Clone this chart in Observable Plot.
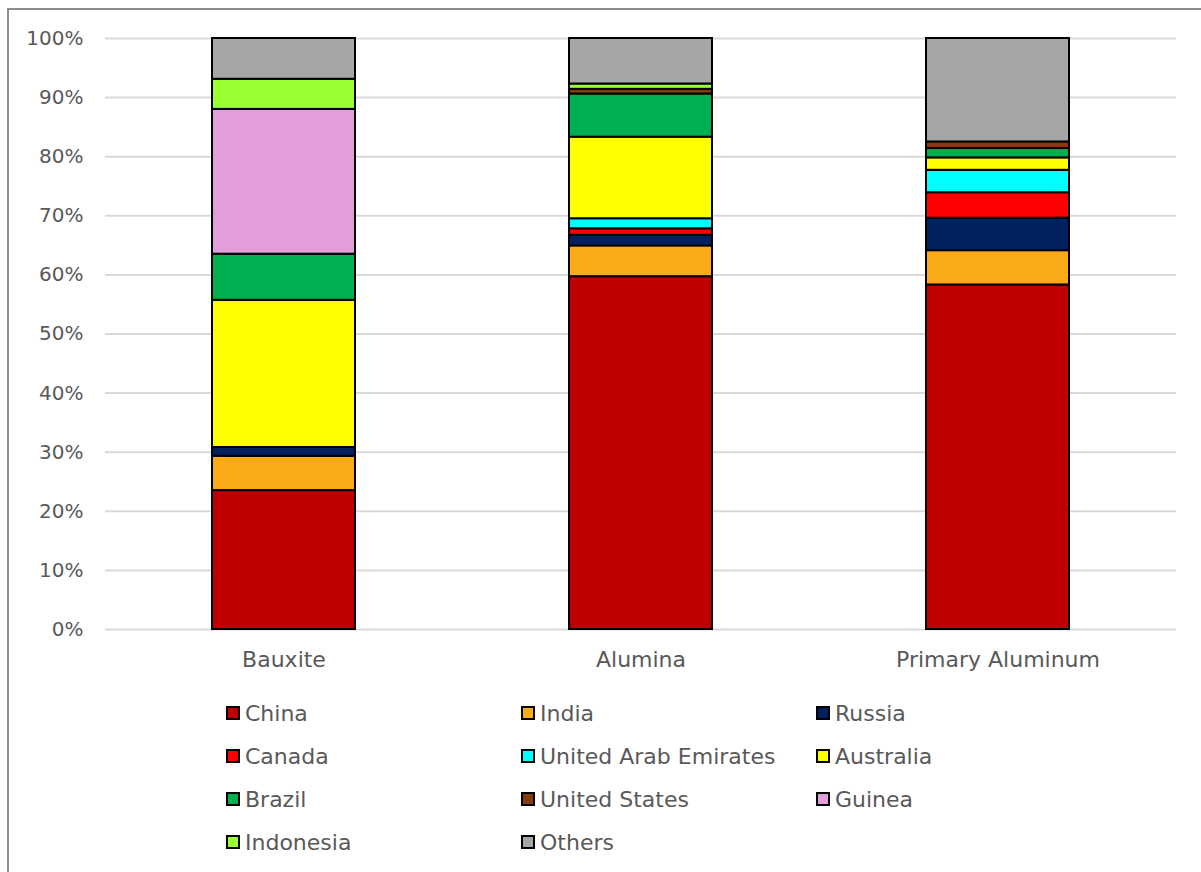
<!DOCTYPE html>
<html>
<head>
<meta charset="utf-8">
<script src="https://cdn.jsdelivr.net/npm/d3@7"></script>
<script src="https://cdn.jsdelivr.net/npm/@observablehq/plot@0.6"></script>
<style>
  html, body { margin: 0; padding: 0; background: #fff; overflow: hidden; }
  body { width: 1201px; height: 872px; position: relative; font-family: "DejaVu Sans", sans-serif; }
  #frame {
    position: absolute; left: 7px; top: 8px; width: 1300px; height: 1000px;
    border-left: 2px solid #8c8c8c; border-top: 2px solid #8c8c8c; box-sizing: border-box;
  }
  #chart { position: absolute; left: 0; top: 0; }
  #legend { position: absolute; left: 0; top: 0; width: 1201px; }
  .item { position: absolute; display: flex; align-items: center; font-size: 22px; color: #595959; white-space: nowrap; }
  .sw { width: 10px; height: 10px; border: 2px solid #000; margin-right: 5px; }
  #chart svg g[aria-label="x-axis tick label"] { font-size: 22px; }
</style>
</head>
<body>
<div id="frame"></div>
<div id="chart"></div>
<div id="legend"></div>
<script>
// Stages of the aluminum supply chain
const stages = ["Bauxite", "Alumina", "Primary Aluminum"];

// Producing countries, bottom of each stack first
const countries = ["China", "India", "Russia", "Canada", "United Arab Emirates", "Australia",
                   "Brazil", "United States", "Guinea", "Indonesia", "Others"];

const countryColors = ["#C00000", "#FBAB18", "#002060", "#FF0000", "#00FFFF", "#FFFF00",
                       "#00B050", "#843C0C", "#E29EDB", "#99FF33", "#A6A6A6"];

// Share of world production (%), one value per stage
const bauxiteShare = [23.5, 5.8, 1.5, 0, 0, 24.9, 7.8, 0, 24.5, 5.1, 6.9];
const aluminaShare = [59.7, 5.2, 1.8, 1.1, 1.7, 13.8, 7.3, 0.8, 0, 0.9, 7.7];
const primaryShare = [58.3, 5.8, 5.5, 4.3, 3.8, 2.1, 1.6, 1.1, 0, 0, 17.5];

const yTicks = [0, 10, 20, 30, 40, 50, 60, 70, 80, 90, 100];

const shares = [bauxiteShare, aluminaShare, primaryShare];
const rows = [];
stages.forEach((stage, i) => {
  countries.forEach((country, j) => {
    const v = shares[i][j];
    if (v > 0) rows.push({stage, country, share: v});
  });
});

const chart = Plot.plot({
  width: 1201,
  height: 690,
  marginLeft: 105,
  marginRight: 25,
  marginTop: 38,
  marginBottom: 61,
  style: {fontFamily: "DejaVu Sans, sans-serif", fontSize: "20px", color: "#595959", background: "transparent"},
  x: {domain: stages, paddingInner: 0.6, paddingOuter: 0.3, label: null, tickSize: 0, tickPadding: 22},
  y: {domain: [0, 100], ticks: yTicks, tickFormat: d => d + "%", label: null, tickSize: 0, tickPadding: 22},
  color: {domain: countries, range: countryColors},
  marks: [
    Plot.gridY(yTicks, {stroke: "#d9d9d9", strokeOpacity: 1, strokeWidth: 2}),
    Plot.barY(rows, {x: "stage", y: "share", fill: "country", stroke: "#000", strokeWidth: 2})
  ]
});
document.getElementById("chart").appendChild(chart);

// Legend: three columns, row-major order
const legend = document.getElementById("legend");
const colX = [226, 521, 816];
const rowY = [713, 756, 799, 842];
countries.forEach((c, i) => {
  const item = document.createElement("div");
  item.className = "item";
  item.style.left = colX[i % 3] + "px";
  item.style.top = (rowY[Math.floor(i / 3)] - 13) + "px";
  item.style.height = "26px";
  const sw = document.createElement("div");
  sw.className = "sw";
  sw.style.background = countryColors[i];
  const label = document.createElement("span");
  label.textContent = c;
  item.appendChild(sw);
  item.appendChild(label);
  legend.appendChild(item);
});
</script>
</body>
</html>
